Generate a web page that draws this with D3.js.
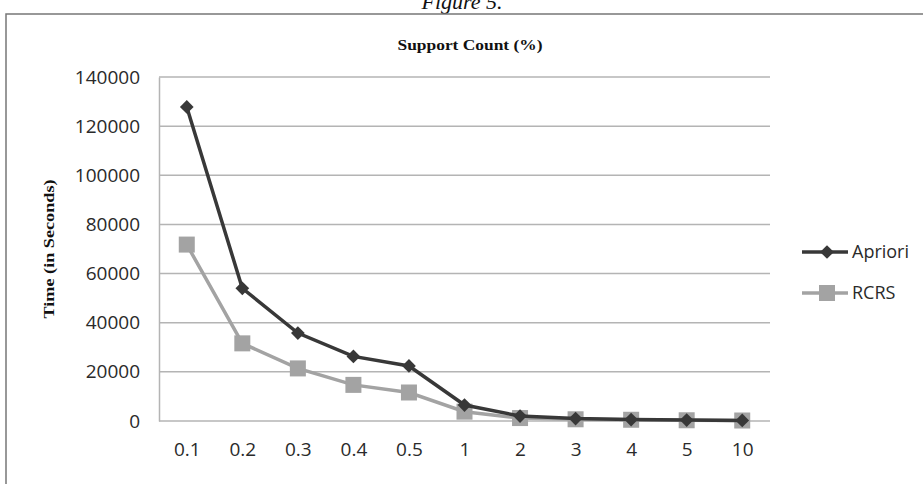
<!DOCTYPE html>
<html>
<head>
<meta charset="utf-8">
<script src="https://cdn.jsdelivr.net/npm/d3@7"></script>
<style>
  body { margin: 0; background: #fff; }
  .grid line { stroke: #b4b4b4; stroke-width: 1.5; }
  .tick text { font-family: "Open Sans", "Liberation Sans", sans-serif; font-size: 19px; fill: #2a2a2a; }
</style>
</head>
<body>
<script>
//W and H
var w = 923;
var h = 484;

//plot box (not "top": that name is taken by window.top)
var plotL = 159, plotR = 770, plotT = 77, plotB = 421;

//data
var categories = ["0.1", "0.2", "0.3", "0.4", "0.5", "1", "2", "3", "4", "5", "10"];
var apriori = [127800, 54000, 35800, 26300, 22400, 6500, 2000, 1000, 600, 400, 250];
var rcrs = [71800, 31600, 21400, 14700, 11600, 3800, 1200, 700, 500, 300, 200];
var yTicks = [0, 20000, 40000, 60000, 80000, 100000, 120000, 140000];

var svg = d3.select("body")
    .append("svg")
    .attr("width", w)
    .attr("height", h);

//caption cut off at top
svg.append("text")
    .attr("x", 462)
    .attr("y", 9)
    .attr("text-anchor", "middle")
    .style("font-family", "Liberation Serif, serif")
    .style("font-style", "italic")
    .style("font-size", "22px")
    .style("fill", "#111")
    .text("Figure 5.");

//outer frame
svg.append("path")
    .attr("d", "M6," + h + "V14H" + w)
    .attr("fill", "none")
    .attr("stroke", "#777")
    .attr("stroke-width", 1.5);

//Scales
var x = d3.scalePoint()
    .domain(categories)
    .range([plotL, plotR])
    .padding(0.5);

var y = d3.scaleLinear()
    .domain([0, 140000])
    .range([plotB, plotT]);

//gridlines
svg.append("g")
    .attr("class", "grid")
    .selectAll("line")
    .data(yTicks)
    .enter()
    .append("line")
    .attr("x1", plotL)
    .attr("x2", plotR)
    .attr("y1", function(d) { return y(d); })
    .attr("y2", function(d) { return y(d); });

//y axis
var yAxis = d3.axisLeft(y)
    .tickValues(yTicks)
    .tickSize(0)
    .tickPadding(19)
    .tickFormat(d3.format("d"));

var gy = svg.append("g")
    .attr("transform", "translate(" + plotL + ",0)")
    .call(yAxis);
gy.select(".domain").attr("stroke", "#b4b4b4").attr("stroke-width", 1.5);

//x axis
var xAxis = d3.axisBottom(x)
    .tickSize(0)
    .tickPadding(22);

var gx = svg.append("g")
    .attr("transform", "translate(0," + plotB + ")")
    .call(xAxis);
gx.select(".domain").remove();

//lines
var line = d3.line()
    .x(function(d, i) { return x(categories[i]); })
    .y(function(d) { return y(d); });

svg.append("path")
    .datum(rcrs)
    .attr("d", line)
    .attr("fill", "none")
    .attr("stroke", "#a3a3a3")
    .attr("stroke-width", 3.5);

svg.append("g")
    .selectAll("rect")
    .data(rcrs)
    .enter()
    .append("rect")
    .attr("x", function(d, i) { return x(categories[i]) - 8; })
    .attr("y", function(d) { return y(d) - 8; })
    .attr("width", 16)
    .attr("height", 16)
    .attr("fill", "#a3a3a3");

svg.append("path")
    .datum(apriori)
    .attr("d", line)
    .attr("fill", "none")
    .attr("stroke", "#383838")
    .attr("stroke-width", 3.5);

var diamond = d3.symbol().type(d3.symbolDiamond2).size(120);

svg.append("g")
    .selectAll("path")
    .data(apriori)
    .enter()
    .append("path")
    .attr("d", diamond)
    .attr("transform", function(d, i) { return "translate(" + x(categories[i]) + "," + y(d) + ")"; })
    .attr("fill", "#383838");

//axis titles
svg.append("text")
    .attr("x", 470)
    .attr("y", 50)
    .attr("text-anchor", "middle")
    .attr("textLength", 145)
    .attr("lengthAdjust", "spacingAndGlyphs")
    .style("font-family", "Liberation Serif, serif")
    .style("font-weight", "bold")
    .style("font-size", "15px")
    .style("fill", "#111")
    .text("Support Count (%)");

svg.append("text")
    .attr("transform", "translate(54," + ((plotT + plotB) / 2) + ") rotate(-90)")
    .attr("text-anchor", "middle")
    .attr("textLength", 139)
    .attr("lengthAdjust", "spacingAndGlyphs")
    .style("font-family", "Liberation Serif, serif")
    .style("font-weight", "bold")
    .style("font-size", "15px")
    .style("fill", "#111")
    .text("Time (in Seconds)");

//legend
var legend = [
    { name: "Apriori", color: "#383838", shape: "diamond", y: 252 },
    { name: "RCRS", color: "#a3a3a3", shape: "square", y: 293 }
];

var lg = svg.append("g")
    .selectAll("g")
    .data(legend)
    .enter()
    .append("g")
    .attr("transform", function(d) { return "translate(802," + d.y + ")"; });

lg.append("line")
    .attr("x1", 0)
    .attr("x2", 46)
    .attr("stroke", function(d) { return d.color; })
    .attr("stroke-width", 3.5);

lg.append("path")
    .attr("d", function(d) {
        return d.shape === "diamond" ? diamond() : d3.symbol().type(d3.symbolSquare).size(256)();
    })
    .attr("transform", "translate(25,0)")
    .attr("fill", function(d) { return d.color; });

lg.append("text")
    .attr("x", 50)
    .attr("dy", "0.35em")
    .style("font-family", "Open Sans, Liberation Sans, sans-serif")
    .style("font-size", "18px")
    .style("fill", "#2a2a2a")
    .text(function(d) { return d.name; });
</script>
</body>
</html>
